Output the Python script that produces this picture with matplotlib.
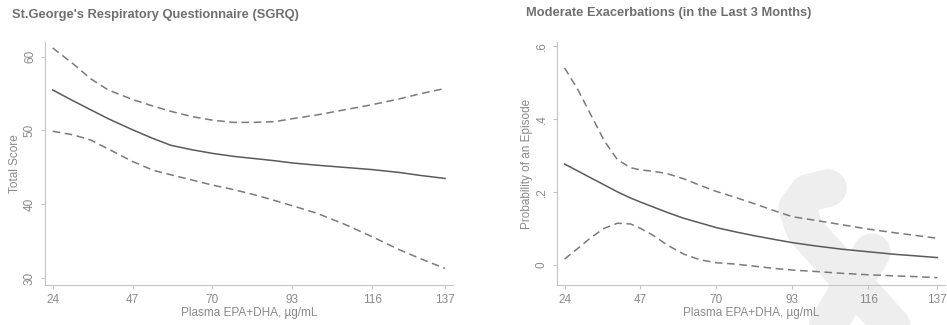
"""Grafico SGRQ y exacerbaciones moderadas vs EPA+DHA plasmatico"""
# Import ------------------------------------------------------------------------------------------------------
import numpy as np
import matplotlib.pyplot as plt
from matplotlib.lines import Line2D

# Datos -------------------------------------------------------------------------------------------------------
x_ticks = [24, 47, 70, 93, 116, 137]

# SGRQ (panel izquierdo)
sgrq_x = [24, 30, 35, 40, 47, 53, 58, 64, 70, 76, 82, 88, 93, 100, 108, 116, 124, 130, 137]
sgrq_fit = [55.5, 54.0, 52.8, 51.6, 50.1, 48.9, 48.0, 47.4, 46.9, 46.5, 46.2, 45.9, 45.6, 45.3, 45.0, 44.7, 44.3, 43.9, 43.5]
sgrq_hi = [61.2, 59.0, 57.0, 55.5, 54.2, 53.3, 52.6, 51.9, 51.4, 51.1, 51.1, 51.2, 51.6, 52.1, 52.8, 53.5, 54.3, 55.0, 55.7]
sgrq_lo = [49.9, 49.4, 48.7, 47.5, 45.8, 44.6, 44.0, 43.3, 42.6, 42.0, 41.3, 40.5, 39.8, 38.8, 37.3, 35.6, 33.8, 32.6, 31.3]

# Exacerbaciones (panel derecho)
exa_x = [24, 28, 32, 36, 40, 44, 47, 51, 55, 60, 65, 70, 76, 82, 88, 93, 100, 108, 116, 124, 130, 137]
exa_fit = [0.276, 0.257, 0.238, 0.219, 0.200, 0.183, 0.172, 0.158, 0.144, 0.128, 0.115, 0.102, 0.090, 0.079, 0.069, 0.061, 0.052, 0.043, 0.036, 0.029, 0.025, 0.020]
exa_hi = [0.539, 0.480, 0.410, 0.340, 0.288, 0.266, 0.260, 0.256, 0.250, 0.236, 0.218, 0.201, 0.184, 0.166, 0.147, 0.132, 0.122, 0.110, 0.098, 0.088, 0.081, 0.073]
exa_lo = [0.016, 0.045, 0.075, 0.100, 0.114, 0.112, 0.100, 0.080, 0.055, 0.030, 0.014, 0.006, 0.002, -0.004, -0.010, -0.014, -0.018, -0.023, -0.027, -0.030, -0.032, -0.035]

# Estilo ------------------------------------------------------------------------------------------------------
plt.rcParams['font.family'] = ['Liberation Sans', 'DejaVu Sans']
GRIS_TXT = '#8a8a8a'
GRIS_EJE = '#c4c4c4'
TAM = 8.5

fig = plt.figure(figsize=(9.47, 3.25), dpi=100)

# marca de agua (detras de todo)
fig.add_artist(Line2D([828 / 947, 808 / 947, 797 / 947, 805 / 947, 900 / 947],
                      [1 - 188 / 325, 1 - 193 / 325, 1 - 208 / 325, 1 - 230 / 325, 1 - 335 / 325],
                      color='#eeeeee', lw=27, solid_capstyle='round', solid_joinstyle='round', zorder=0))
fig.add_artist(Line2D([872 / 947, 822 / 947], [1 - 252 / 325, 1 - 335 / 325],
                      color='#eeeeee', lw=27, solid_capstyle='round', zorder=0))


def panel(rect, xs, fit, hi, lo, ylim, yticks, yticklabels, ylabel, xlim):
    ax = fig.add_axes(rect)
    ax.set_facecolor('none')
    ax.plot(xs, fit, color='#5a5a5a', lw=1.1, zorder=3)
    ax.plot(xs, hi, color='#7a7a7a', lw=1.1, ls=(0, (5, 3)), zorder=3)
    ax.plot(xs, lo, color='#7a7a7a', lw=1.1, ls=(0, (5, 3)), zorder=3)
    ax.set_xlim(*xlim)
    ax.set_ylim(*ylim)
    ax.set_xticks(x_ticks)
    ax.set_yticks(yticks)
    ax.set_yticklabels(yticklabels, rotation=90, va='center')
    for s in ['top', 'right']:
        ax.spines[s].set_visible(False)
    for s in ['left', 'bottom']:
        ax.spines[s].set_color(GRIS_EJE)
        ax.spines[s].set_linewidth(0.8)
    ax.tick_params(colors=GRIS_EJE, labelcolor=GRIS_TXT, labelsize=TAM, length=3, width=0.8)
    ax.set_xlabel('Plasma EPA+DHA, µg/mL', color=GRIS_TXT, fontsize=TAM, labelpad=1)
    ax.set_ylabel(ylabel, color=GRIS_TXT, fontsize=TAM, labelpad=2)
    return ax


panel([45 / 947, 1 - 285 / 325, 408 / 947, 243 / 325], sgrq_x, sgrq_fit, sgrq_hi, sgrq_lo,
      (29.05, 62.0), [30, 40, 50, 60], ['30', '40', '50', '60'], 'Total Score', (21.8, 139.3))
panel([557 / 947, 1 - 285 / 325, 388 / 947, 243 / 325], exa_x, exa_fit, exa_hi, exa_lo,
      (-0.055, 0.61), [0, 0.2, 0.4, 0.6], ['0', '.2', '.4', '.6'], 'Probability of an Episode',
      (21.7, 139.3))

fig.text(12 / 947, 1 - 15 / 325, "St.George's Respiratory Questionnaire (SGRQ)",
         color='#6f6f6f', fontsize=9.3, fontweight='bold', va='center')
fig.text(526 / 947, 1 - 13 / 325, 'Moderate Exacerbations (in the Last 3 Months)',
         color='#6f6f6f', fontsize=9.3, fontweight='bold', va='center')

fig.savefig('out.png', dpi=100)
